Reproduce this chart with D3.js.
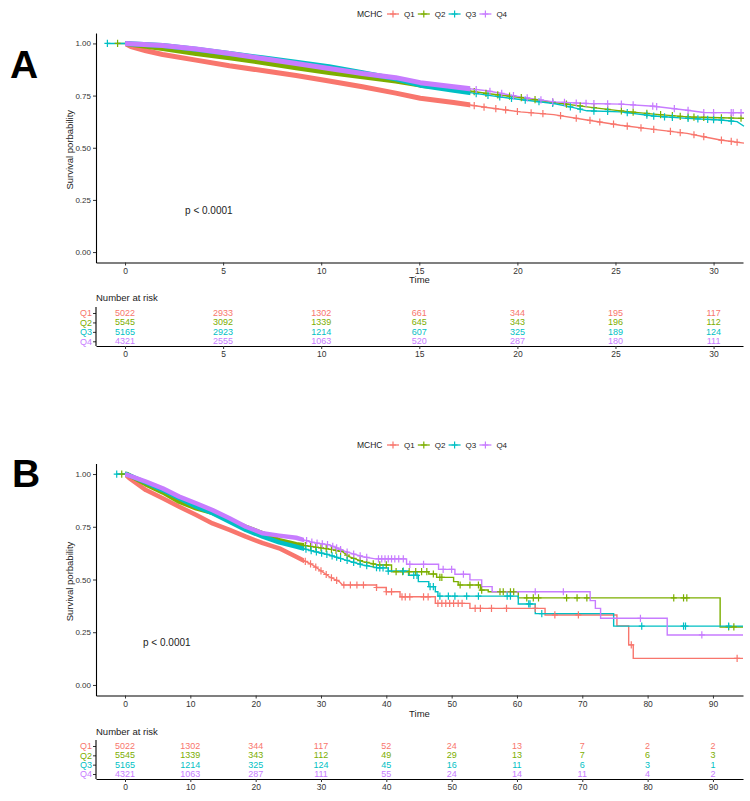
<!DOCTYPE html>
<html>
<head>
<meta charset="utf-8">
<script src="https://cdnjs.cloudflare.com/ajax/libs/d3/7.8.5/d3.min.js"></script>
<style>
body { margin: 0; background: #fff; }
svg text { font-family: "Liberation Sans", Arial, Helvetica, sans-serif; }
</style>
</head>
<body>
<svg id="chart" width="750" height="801"></svg>
<script>
var groups = ["Q1", "Q2", "Q3", "Q4"];
var colors = ["#F8766D", "#7CAE00", "#00BFC4", "#C77CFF"];
var yTicks = [0, 0.25, 0.5, 0.75, 1];
var yTickLabels = ["0.00", "0.25", "0.50", "0.75", "1.00"];

// ---- panel A (time 0-31) ----
var xTicksA = [0, 5, 10, 15, 20, 25, 30];
var survA_Q1 = [[0,1],[0.3,0.985],[1.07,0.965],[1.92,0.947],[3.62,0.92],[5.32,0.893],[7,0.87],[8.72,0.846],[10.4,0.82],[12.1,0.792],[13.8,0.762],[15.05,0.737],[16.75,0.717],[18.45,0.693],[20.15,0.672],[21.85,0.659],[23.55,0.633],[25.25,0.608],[26.95,0.588],[28.65,0.569],[29.5,0.553],[30.35,0.537],[31.55,0.522]];
var survA_Q2 = [[-0.38,1],[0,1],[1.92,0.976],[3.62,0.952],[5.32,0.931],[7,0.909],[8.72,0.883],[10.4,0.861],[12.1,0.84],[13.8,0.82],[15.05,0.8],[16.75,0.784],[18.45,0.76],[20.15,0.741],[21.85,0.717],[23.55,0.696],[25.25,0.677],[26.95,0.661],[28.65,0.648],[30.35,0.644],[31.55,0.641]];
var survA_Q3 = [[-0.9,1],[0,1],[1.92,0.99],[3.62,0.972],[5.32,0.952],[7,0.931],[8.72,0.91],[10.4,0.888],[12.1,0.86],[13.8,0.83],[15.05,0.8],[16.75,0.776],[18.45,0.752],[20.15,0.731],[21.85,0.712],[22.7,0.696],[23.55,0.677],[25.25,0.672],[26.95,0.652],[28.65,0.641],[30.35,0.633],[31.2,0.625],[31.55,0.603]];
var survA_Q4 = [[0,1],[1.92,0.99],[3.62,0.973],[5.32,0.952],[7,0.928],[8.72,0.904],[10.4,0.88],[12.1,0.856],[13.8,0.836],[15.05,0.812],[16.75,0.792],[18.45,0.773],[20.15,0.744],[21.85,0.72],[23.55,0.712],[25.25,0.709],[26.95,0.699],[28.65,0.68],[29.5,0.669],[31.55,0.668]];
var censA_Q1 = [17.8, 18.3, 18.9, 19.4, 20.0, 20.7, 21.3, 22.2, 23.0, 23.7, 24.2, 24.9, 25.6, 26.3, 26.95, 27.8, 28.3, 29.0, 29.5, 30.4, 30.9, 31.2];
var censA_Q2 = [-0.38, 17.8, 18.4, 19.0, 19.6, 20.2, 20.9, 21.8, 22.5, 23.2, 23.9, 24.6, 25.3, 25.9, 26.6, 27.3, 27.9, 28.3, 28.7, 29.0, 29.5, 30.0, 30.4, 30.9, 31.4];
var censA_Q3 = [-0.9, 17.9, 18.5, 19.1, 19.7, 20.4, 21.1, 21.8, 22.7, 23.2, 23.9, 24.6, 25.6, 26.6, 26.95, 27.5, 27.9, 28.7, 29.2, 29.7, 30.0, 30.4, 30.9];
var censA_Q4 = [17.9, 18.6, 19.2, 19.8, 20.5, 21.2, 21.8, 22.4, 23.0, 23.5, 23.9, 24.6, 25.3, 25.9, 26.9, 27.1, 28.0, 28.7, 29.5, 30.0, 30.9, 31.0, 31.4];
var riskA_Q1 = [5022, 2933, 1302, 661, 344, 195, 117];
var riskA_Q2 = [5545, 3092, 1339, 645, 343, 196, 112];
var riskA_Q3 = [5165, 2923, 1214, 607, 325, 189, 124];
var riskA_Q4 = [4321, 2555, 1063, 520, 287, 180, 111];

// ---- panel B (time 0-94) ----
var xTicksB = [0, 10, 20, 30, 40, 50, 60, 70, 80, 90];
var survB_Q1 = [[0,1],[0.66,0.98],[3.2,0.924],[5.77,0.885],[8.3,0.845],[10.9,0.806],[13.4,0.766],[16,0.735],[18.5,0.703],[21.1,0.672],[23.6,0.648],[26.2,0.608],[28.7,0.569],[31.3,0.513],[32.8,0.49],[33.3,0.474],[38.5,0.474],[38.5,0.462],[40,0.462],[40,0.442],[42.1,0.442],[42.1,0.418],[47.5,0.418],[47.5,0.387],[52.8,0.387],[52.8,0.363],[64.3,0.363],[64.3,0.332],[75.3,0.332],[75.3,0.28],[77.1,0.28],[77.1,0.19],[77.8,0.19],[77.8,0.126],[94.6,0.126]];
var survB_Q2 = [[-0.5,1],[0.3,1],[3.2,0.951],[5.77,0.913],[8.3,0.869],[10.9,0.837],[13.4,0.816],[16,0.782],[18.5,0.75],[21.1,0.719],[23.6,0.687],[26.2,0.667],[28.7,0.656],[31.3,0.644],[33.3,0.632],[34.3,0.608],[36.4,0.585],[38.8,0.569],[40.8,0.569],[40.8,0.537],[46.5,0.537],[46.5,0.526],[47.7,0.526],[47.7,0.51],[50.3,0.51],[50.3,0.49],[51,0.49],[51,0.474],[54.4,0.474],[54.4,0.45],[55.6,0.45],[55.6,0.442],[60.2,0.442],[60.2,0.413],[91.1,0.413],[91.1,0.275],[94.6,0.275]];
var survB_Q3 = [[-1.27,1],[0.2,1],[3.2,0.96],[5.77,0.924],[8.3,0.885],[10.9,0.845],[13.4,0.814],[16,0.774],[18.5,0.735],[21.1,0.703],[23.6,0.676],[26.2,0.656],[28.7,0.635],[31.3,0.616],[33.8,0.592],[36.4,0.569],[38.8,0.555],[40.3,0.555],[40.3,0.54],[43.4,0.54],[43.4,0.52],[44.9,0.52],[44.9,0.49],[46.5,0.49],[46.5,0.466],[47.5,0.466],[47.5,0.442],[47.9,0.442],[47.9,0.421],[60.2,0.421],[60.2,0.384],[62.8,0.384],[62.8,0.338],[74.8,0.338],[74.8,0.279],[94.6,0.279]];
var survB_Q4 = [[0,1],[3.2,0.964],[5.77,0.932],[8.3,0.893],[10.9,0.861],[13.4,0.829],[16,0.79],[18.5,0.75],[21.1,0.719],[23.6,0.708],[26.2,0.698],[28.7,0.676],[31.3,0.664],[33.8,0.632],[36.4,0.608],[38.3,0.598],[43.1,0.598],[43.1,0.572],[48,0.572],[48,0.548],[50.5,0.548],[50.5,0.525],[52.8,0.525],[52.8,0.498],[54.6,0.498],[54.6,0.466],[56.2,0.466],[56.2,0.442],[71.2,0.442],[71.2,0.4],[72,0.4],[72,0.363],[72.8,0.363],[72.8,0.316],[83,0.316],[83,0.237],[94.6,0.237]];
var censB_Q1 = [27.6, 28.4, 29.2, 30.0, 30.8, 31.6, 32.4, 33.5, 34.5, 35.5, 36.5, 38.5, 40.0, 40.8, 42.4, 42.9, 43.6, 45.7, 46.4, 47.9, 48.5, 49.1, 49.7, 50.3, 51.0, 51.6, 53.6, 54.4, 56.1, 58.4, 62.8, 65.8, 69.4, 77.5, 93.7];
var censB_Q2 = [-0.5, 27.6, 28.4, 29.2, 30.0, 30.8, 31.6, 32.3, 33.0, 34.0, 35.0, 36.0, 37.0, 38.0, 39.0, 40.0, 41.5, 42.5, 43.5, 44.5, 45.4, 46.2, 47.2, 48.2, 48.5, 51.3, 52.8, 54.1, 54.6, 57.4, 57.9, 59.0, 59.5, 61.5, 62.5, 63.3, 67.6, 69.2, 70.7, 84.0, 85.5, 86.0, 92.4, 93.2];
var censB_Q3 = [-1.27, 27.7, 28.5, 29.3, 30.1, 30.9, 31.7, 32.4, 33.0, 34.0, 35.0, 36.0, 37.0, 38.5, 39.0, 39.5, 40.3, 42.6, 44.2, 44.7, 46.7, 47.2, 48.2, 49.5, 50.5, 52.3, 54.1, 58.5, 59.0, 61.8, 62.0, 63.8, 79.1, 85.5, 85.8, 92.4];
var censB_Q4 = [27.8, 28.6, 29.4, 30.2, 31.0, 31.8, 32.4, 33.0, 34.0, 35.0, 36.0, 37.0, 38.8, 39.3, 39.8, 40.3, 40.8, 41.3, 41.9, 42.6, 43.6, 45.7, 48.7, 50.0, 51.8, 62.8, 67.1, 78.9, 88.3];
var riskB_Q1 = [5022, 1302, 344, 117, 52, 24, 13, 7, 2, 2];
var riskB_Q2 = [5545, 1339, 343, 112, 49, 29, 13, 7, 6, 3];
var riskB_Q3 = [5165, 1214, 325, 124, 45, 16, 11, 6, 3, 1];
var riskB_Q4 = [4321, 1063, 287, 111, 55, 24, 14, 11, 4, 2];

var svg = d3.select("#chart");
var left = 96, right = 743;
var plus = "M-3,0H3M0,-3.6V3.6";

// survival value on the drawn polyline at time t
var valueAt = function(pts, t){
	for (var i = pts.length - 1; i >= 0; i--){
		if (pts[i][0] <= t){
			if (i == pts.length - 1) return pts[i][1];
			var a = pts[i], b = pts[i+1];
			return a[1] + (b[1] - a[1]) * (t - a[0]) / (b[0] - a[0]);
		}
	}
	return pts[0][1];
};

var styleAxis = function(g, size){
	g.attr("font-size", size).attr("font-family", null);
	g.select(".domain").attr("stroke", "#000").attr("stroke-width", 1.1);
	g.selectAll(".tick line").attr("stroke", "#333");
	g.selectAll(".tick text").attr("fill", "#333");
};

var drawPanel = function(p){
	var g = svg.append("g");
	var x = d3.scaleLinear().domain(p.xDomain).range([left, right]);
	var y = d3.scaleLinear().domain([-0.05, 1.05]).range([p.plotBottom, p.plotTop]);

	svg.append("clipPath").attr("id", "band" + p.id)
		.append("rect")
		.attr("x", x(0)).attr("y", p.plotTop - 10)
		.attr("width", x(p.bandEnd) - x(0))
		.attr("height", p.plotBottom - p.plotTop + 20);

	var line = d3.line().x(function(d){ return x(d[0]); }).y(function(d){ return y(d[1]); });

	// step lines
	p.curves.forEach(function(pts, i){
		g.append("path")
			.attr("d", line(pts))
			.attr("fill", "none")
			.attr("stroke", colors[i])
			.attr("stroke-width", 1.4);
	});

	// censoring: dense part drawn as a band, later marks as "+"
	p.curves.forEach(function(pts, i){
		g.append("path")
			.attr("d", line(pts))
			.attr("fill", "none")
			.attr("stroke", colors[i])
			.attr("stroke-width", p.bandWidth)
			.attr("stroke-linejoin", "round")
			.attr("clip-path", "url(#band" + p.id + ")");

		g.selectAll(null)
			.data(p.censors[i])
			.enter()
			.append("path")
			.attr("transform", function(t){ return "translate(" + x(t) + "," + y(valueAt(pts, t)) + ")"; })
			.attr("d", plus)
			.attr("stroke", colors[i])
			.attr("stroke-width", 1.2);
	});

	// axes
	var yAxis = d3.axisLeft(y).tickValues(yTicks)
		.tickFormat(function(d){ return yTickLabels[yTicks.indexOf(d)]; })
		.tickSize(3).tickPadding(2).tickSizeOuter(0);
	g.append("g").attr("transform", "translate(" + left + ",0)").call(yAxis).call(styleAxis, 8);

	var xAxis = d3.axisBottom(x).tickValues(p.xTicks).tickFormat(d3.format("d"))
		.tickSize(3).tickPadding(2).tickSizeOuter(0);
	g.append("g").attr("transform", "translate(0," + p.plotBottom + ")").call(xAxis).call(styleAxis, 8.5);

	g.append("text")
		.attr("transform", "translate(69," + ((p.plotTop + p.plotBottom) / 2 + 2) + ") rotate(-90)")
		.attr("text-anchor", "middle")
		.attr("dominant-baseline", "central")
		.attr("font-size", 9.5)
		.attr("fill", "#222")
		.text("Survival porbability");

	g.append("text")
		.attr("x", (left + right) / 2).attr("y", p.timeY)
		.attr("text-anchor", "middle")
		.attr("font-size", 9.5)
		.attr("fill", "#222")
		.text("Time");

	g.append("text")
		.attr("x", x(p.pvalAt[0])).attr("y", y(p.pvalAt[1]))
		.attr("dominant-baseline", "central")
		.attr("font-size", 10)
		.attr("fill", "#222")
		.text("p < 0.0001");

	// panel letter
	g.append("text")
		.attr("x", p.labelX).attr("y", p.labelY)
		.attr("font-size", 39)
		.attr("font-weight", "bold")
		.attr("fill", "#000")
		.text(p.id);

	// legend
	var lg = g.append("g").attr("transform", "translate(0," + p.legendY + ")");
	lg.append("text")
		.attr("x", 357).attr("y", 0)
		.attr("dominant-baseline", "central")
		.attr("font-size", 8.5)
		.attr("fill", "#222")
		.text("MCHC");
	groups.forEach(function(q, i){
		var kx = 393 + i * 30.8;
		lg.append("line")
			.attr("x1", kx - 6).attr("x2", kx + 6)
			.attr("stroke", colors[i]).attr("stroke-width", 1.3);
		lg.append("path")
			.attr("transform", "translate(" + kx + ",0)")
			.attr("d", plus)
			.attr("stroke", colors[i]).attr("stroke-width", 1.2);
		lg.append("text")
			.attr("x", kx + 11).attr("y", 0)
			.attr("dominant-baseline", "central")
			.attr("font-size", 8)
			.attr("fill", "#222")
			.text(q);
	});

	// number at risk table
	var ry = d3.scalePoint().domain(groups).range(p.riskRows);
	g.append("text")
		.attr("x", left).attr("y", p.riskTitleY)
		.attr("font-size", 9.5)
		.attr("fill", "#222")
		.text("Number at risk");

	var ryAxis = d3.axisLeft(ry).tickSize(3).tickPadding(1).tickSizeOuter(0);
	var ryG = g.append("g").attr("transform", "translate(" + left + ",0)").call(ryAxis).call(styleAxis, 9);
	ryG.select(".domain").remove();
	ryG.selectAll(".tick text").attr("fill", function(d){ return colors[groups.indexOf(d)]; });
	g.append("line")
		.attr("x1", left).attr("x2", left)
		.attr("y1", p.riskTop).attr("y2", p.riskAxisY)
		.attr("stroke", "#000").attr("stroke-width", 1.1);

	var rxAxis = d3.axisBottom(x).tickValues(p.xTicks).tickFormat(d3.format("d"))
		.tickSize(3).tickPadding(2).tickSizeOuter(0);
	g.append("g").attr("transform", "translate(0," + p.riskAxisY + ")").call(rxAxis).call(styleAxis, 8.5);

	p.risk.forEach(function(row, i){
		g.append("g").selectAll("text")
			.data(row)
			.enter()
			.append("text")
			.attr("x", function(d, j){ return x(p.xTicks[j]); })
			.attr("y", ry(groups[i]))
			.attr("text-anchor", "middle")
			.attr("dominant-baseline", "central")
			.attr("font-size", 9)
			.attr("fill", colors[i])
			.text(function(d){ return d; });
	});
};

drawPanel({
	id: "A",
	xDomain: [-1.48, 31.5], xTicks: xTicksA,
	plotTop: 33, plotBottom: 262.5,
	curves: [survA_Q1, survA_Q2, survA_Q3, survA_Q4],
	censors: [censA_Q1, censA_Q2, censA_Q3, censA_Q4],
	risk: [riskA_Q1, riskA_Q2, riskA_Q3, riskA_Q4],
	bandEnd: 17.6, bandWidth: 5,
	timeY: 283, pvalAt: [3.06, 0.2],
	labelX: 10, labelY: 78, legendY: 14,
	riskTitleY: 301, riskRows: [313, 341.3], riskTop: 307, riskAxisY: 346
});

drawPanel({
	id: "B",
	xDomain: [-4.44, 94.6], xTicks: xTicksB,
	plotTop: 463.5, plotBottom: 695.5,
	curves: [survB_Q1, survB_Q2, survB_Q3, survB_Q4],
	censors: [censB_Q1, censB_Q2, censB_Q3, censB_Q4],
	risk: [riskB_Q1, riskB_Q2, riskB_Q3, riskB_Q4],
	bandEnd: 27.4, bandWidth: 4.5,
	timeY: 717, pvalAt: [2.76, 0.2],
	labelX: 12, labelY: 487, legendY: 445,
	riskTitleY: 735, riskRows: [746, 774], riskTop: 740, riskAxisY: 779
});
</script>
</body>
</html>
